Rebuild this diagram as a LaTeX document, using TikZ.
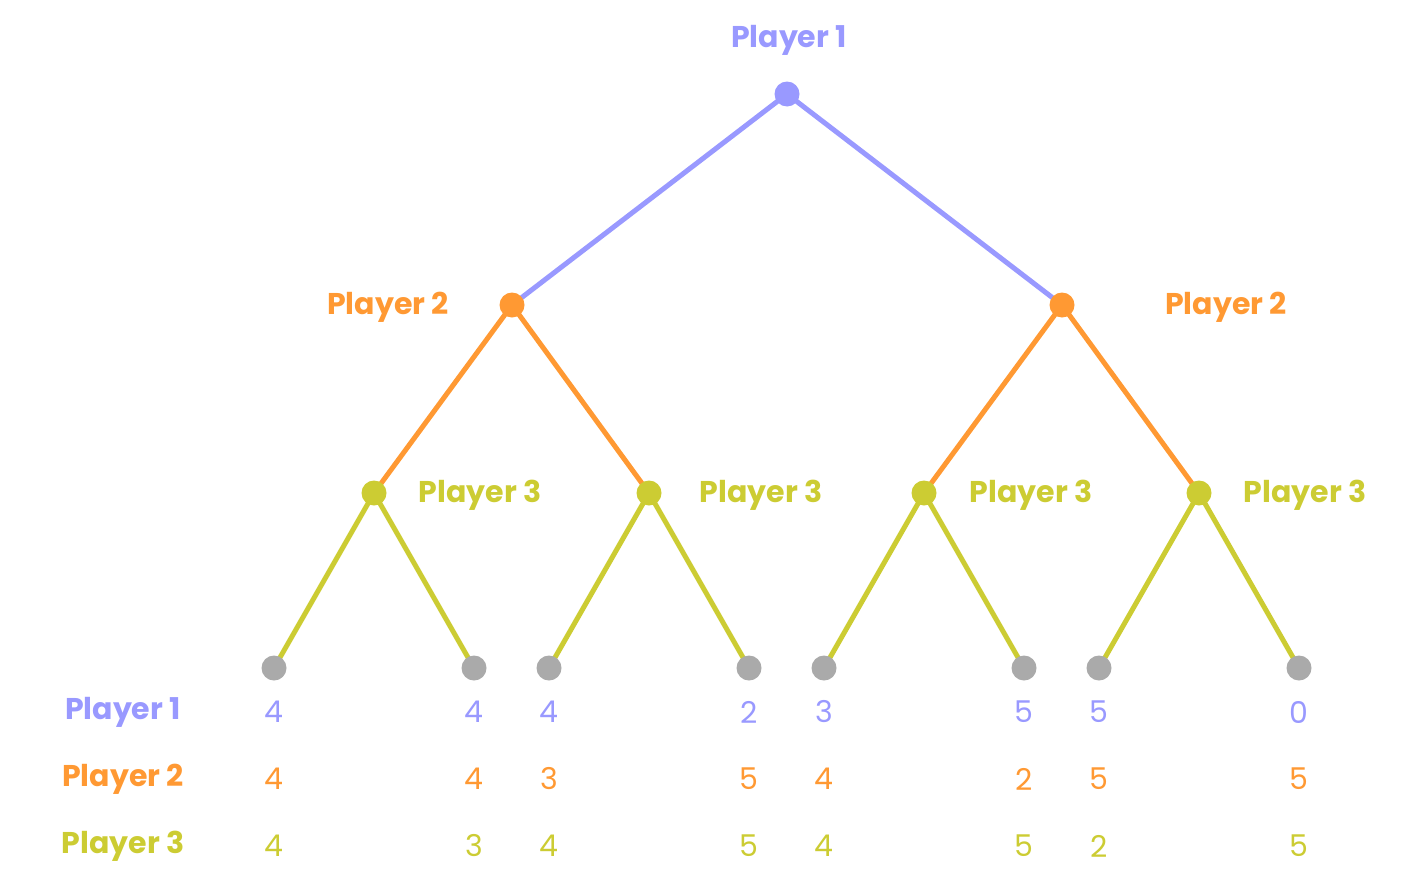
\documentclass[tikz,border=0pt]{standalone}
\usepackage{fontspec}
\setmainfont{Poppins}
\begin{document}
\begin{tikzpicture}[x=1pt,y=-1pt,
 dot/.style={circle,fill=#1,inner sep=0pt,minimum size=25pt},
 edge/.style={line width=5pt,draw=#1},
 lab/.style={font=\fontsize{30}{30}\selectfont\bfseries,text=#1},
 num/.style={font=\fontsize{30}{30}\selectfont,text=#1}]
\definecolor{pa}{HTML}{9999FF}\definecolor{pb}{HTML}{FF9933}
\definecolor{pc}{HTML}{CCCC33}\definecolor{gr}{HTML}{AAAAAA}
\useasboundingbox (0,0) rectangle (1420,891);
\coordinate (r) at (787,94);
\coordinate (a) at (512,305);\coordinate (b) at (1062,305);
\coordinate (a1) at (374,493);\coordinate (a2) at (649,493);
\coordinate (b1) at (924,493);\coordinate (b2) at (1199,493);
\foreach \n/\x in {l1/274,l2/474,l3/549,l4/749,l5/824,l6/1024,l7/1099,l8/1299}
  \coordinate (\n) at (\x,668);
\draw[edge=pa] (a)--(r)--(b);
\draw[edge=pb] (a1)--(a)--(a2) (b1)--(b)--(b2);
\draw[edge=pc] (l1)--(a1)--(l2) (l3)--(a2)--(l4) (l5)--(b1)--(l6) (l7)--(b2)--(l8);
\node[dot=pa] at (r){};
\foreach \n in {a,b}\node[dot=pb] at (\n){};
\foreach \n in {a1,a2,b1,b2}\node[dot=pc] at (\n){};
\foreach \n in {l1,l2,l3,l4,l5,l6,l7,l8}\node[dot=gr] at (\n){};
\node[lab=pa] (t1) at (789,40){Player 1};
\node[lab=pb] (t2) at (388,307){Player 2};
\node[lab=pb] (t3) at (1226,307){Player 2};
\foreach \x/\k in {480/1,761/2,1031/3,1305/4}\node[lab=pc] (u\k) at (\x,495){Player 3};
\node[lab=pa] (r1) at (123,712){Player 1};
\node[lab=pb] (r2) at (123,779){Player 2};
\node[lab=pc] (r3) at (123,846){Player 3};
\foreach \x/\p/\q/\s [count=\i] in {274/4/4/4,474/4/4/3,549/4/3/4,749/2/5/5,824/3/4/4,1024/5/2/5,1099/5/5/2,1299/0/5/5}{
 \node[num=pa] (n\i a) at (\x,712){\p};
 \node[num=pb] (n\i b) at (\x,779){\q};
 \node[num=pc] (n\i c) at (\x,846){\s};}
\end{tikzpicture}
\end{document}
